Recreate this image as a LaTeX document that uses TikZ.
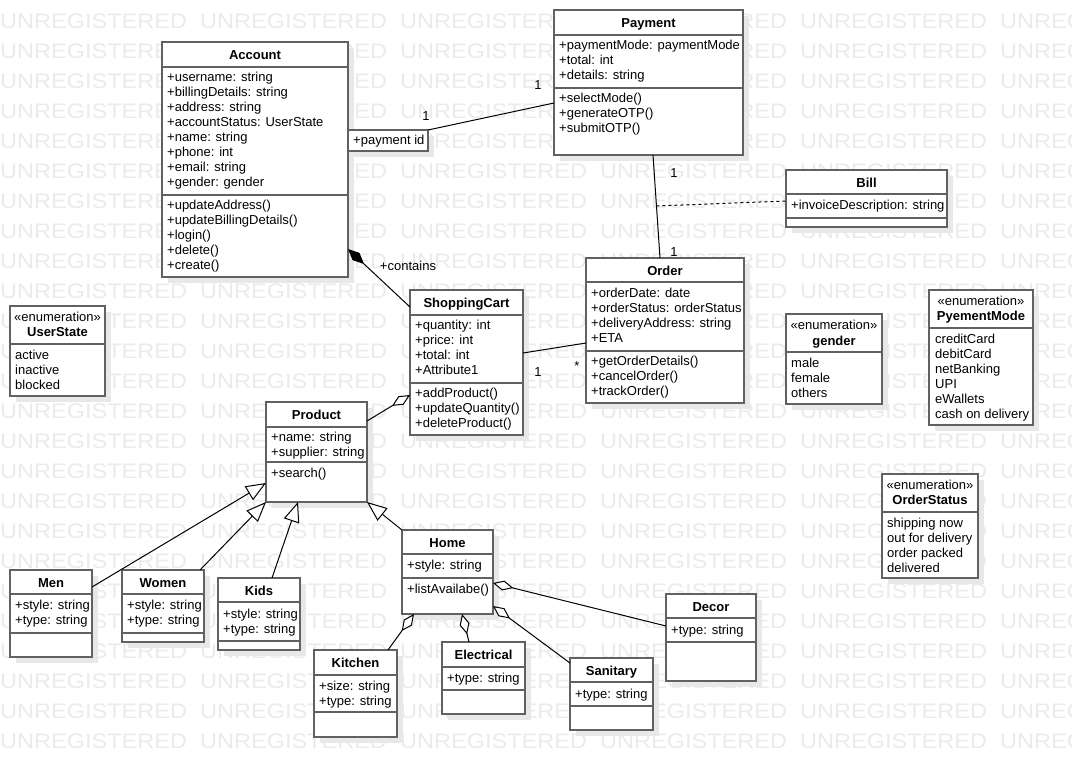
\documentclass[tikz,border=0pt]{standalone}
\usepackage{fontspec}
\setmainfont{Liberation Sans}
\usetikzlibrary{arrows.meta,shadows,calc}

\tikzset{
  box/.style={draw=black!62, line width=1.3pt, fill=white, rectangle, inner sep=0pt, outer sep=0pt, anchor=north west,
    drop shadow={shadow xshift=6pt, shadow yshift=-6pt, fill=black!9, opacity=1}},
  sepline/.style={draw=black!62, line width=1.3pt},
  ttl/.style={font=\bfseries\fontsize{13}{15}\selectfont, inner sep=0pt, anchor=base},
  txt/.style={font=\fontsize{13}{15}\selectfont, inner sep=0pt, anchor=base west},
  stereo/.style={font=\fontsize{13}{15}\selectfont, inner sep=0pt, anchor=base},
  conn/.style={draw=black, line width=1pt},
  mult/.style={font=\fontsize{13}{15}\selectfont, inner sep=0pt},
  wm/.style={font=\fontsize{21}{21}\selectfont, text=black!8, inner sep=0pt, anchor=base west},
  agg/.style={-{Diamond[open, fill=white, length=21pt, width=10pt]}},
  comp/.style={-{Diamond[fill=black, length=22pt, width=10pt]}},
  gen/.style={-{Triangle[open, fill=white, length=20pt, width=16pt]}}
}

\newcommand\umlrows[4]{\foreach \t [count=\i from 0] in {#4} {\node[txt] (#1-\i) at (#2,#3+15*\i) {\t};}}

\begin{document}
\begin{tikzpicture}[x=1pt,y=-1pt]
\useasboundingbox (0,0) rectangle (1072,777);
\fill[white] (0,0) rectangle (1072,777);

% watermark
\foreach \r in {0,...,24}{\foreach \c in {0,...,5}{\node[wm] (wm-\r-\c) at (\c*200,28.3+\r*30) {\scalebox{1.12}[1]{UNREGISTERED}};}}

% Account
\node[box, minimum width=186, minimum height=235] (acc) at (162,42) {};
\node[ttl] (acc-t) at (255,59) {Account};
\draw[sepline] (162,67) -- (348,67);
\draw[sepline] (162,195) -- (348,195);
\umlrows{acc-a}{167}{81}{+username: string,+billingDetails: string,+address: string,+accountStatus: UserState,+name: string,+phone: int,+email: string,+gender: gender}
\umlrows{acc-m}{167}{209}{+updateAddress(),+updateBillingDetails(),+login(),+delete(),+create()}

% payment id qualifier
\node[box, minimum width=80, minimum height=21] (pid) at (348,130) {};
\node[txt] (pid-t) at (353,144) {+payment id};

% Payment
\node[box, minimum width=189, minimum height=145] (pay) at (554,10) {};
\node[ttl] (pay-t) at (648.5,27) {Payment};
\draw[sepline] (554,35) -- (743,35);
\draw[sepline] (554,88) -- (743,88);
\umlrows{pay-a}{559}{49}{+paymentMode: paymentMode,+total: int,+details: string}
\umlrows{pay-m}{559}{102}{+selectMode(),+generateOTP(),+submitOTP()}

% Bill
\node[box, minimum width=161, minimum height=57] (bill) at (786,170) {};
\node[ttl] (bill-t) at (866.5,187) {Bill};
\draw[sepline] (786,194) -- (947,194);
\draw[sepline] (786,218) -- (947,218);
\node[txt] (bill-a) at (791,209) {+invoiceDescription: string};

% Order
\node[box, minimum width=158, minimum height=145] (ord) at (586,258) {};
\node[ttl] (ord-t) at (665,275) {Order};
\draw[sepline] (586,282) -- (744,282);
\draw[sepline] (586,351) -- (744,351);
\umlrows{ord-a}{591}{297}{+orderDate: date,+orderStatus: orderStatus,+deliveryAddress: string,+ETA}
\umlrows{ord-m}{591}{365}{+getOrderDetails(),+cancelOrder(),+trackOrder()}

% gender
\node[box, minimum width=96, minimum height=90] (gen) at (786,314) {};
\node[stereo] (gen-s) at (834,329) {«enumeration»};
\node[ttl] (gen-t) at (834,345) {gender};
\draw[sepline] (786,352) -- (882,352);
\umlrows{gen-v}{791}{367}{male,female,others}

% PyementMode
\node[box, minimum width=104, minimum height=135] (pm) at (929,290) {};
\node[stereo] (pm-s) at (981,305) {«enumeration»};
\node[ttl] (pm-t) at (981,320) {PyementMode};
\draw[sepline] (929,328) -- (1033,328);
\umlrows{pm-v}{935}{343}{creditCard,debitCard,netBanking,UPI,eWallets,cash on delivery}

% OrderStatus
\node[box, minimum width=96, minimum height=104] (os) at (882,474) {};
\node[stereo] (os-s) at (930,489) {«enumeration»};
\node[ttl] (os-t) at (930,504) {OrderStatus};
\draw[sepline] (882,512) -- (978,512);
\umlrows{os-v}{887}{527}{shipping now,out for delivery,order packed,delivered}

% UserState
\node[box, minimum width=95, minimum height=90] (us) at (10,306) {};
\node[stereo] (us-s) at (57.5,321) {«enumeration»};
\node[ttl] (us-t) at (57.5,336) {UserState};
\draw[sepline] (10,344) -- (105,344);
\umlrows{us-v}{15}{359}{active,inactive,blocked}

% ShoppingCart
\node[box, minimum width=113, minimum height=145] (sc) at (410,290) {};
\node[ttl] (sc-t) at (466.5,307) {ShoppingCart};
\draw[sepline] (410,315) -- (523,315);
\draw[sepline] (410,383) -- (523,383);
\umlrows{sc-a}{415}{329}{+quantity: int,+price: int,+total: int,+Attribute1}
\umlrows{sc-m}{415}{397}{+addProduct(),+updateQuantity(),+deleteProduct()}

% Product
\node[box, minimum width=101, minimum height=100] (prod) at (266,402) {};
\node[ttl] (prod-t) at (316.5,419) {Product};
\draw[sepline] (266,427) -- (367,427);
\draw[sepline] (266,462) -- (367,462);
\umlrows{prod-a}{271}{441}{+name: string,+supplier: string}
\node[txt] (prod-m) at (271,477) {+search()};

% Home
\node[box, minimum width=91, minimum height=84] (home) at (402,530) {};
\node[ttl] (home-t) at (447.5,547) {Home};
\draw[sepline] (402,554) -- (493,554);
\draw[sepline] (402,578) -- (493,578);
\node[txt] (home-a) at (407,569) {+style: string};
\node[txt] (home-m) at (407,593) {+listAvailabe()};

% Men
\node[box, minimum width=82, minimum height=87] (men) at (10,570) {};
\node[ttl] (men-t) at (51,587) {Men};
\draw[sepline] (10,594) -- (92,594);
\draw[sepline] (10,633) -- (92,633);
\umlrows{men-a}{15}{609.5}{+style: string,+type: string}

% Women
\node[box, minimum width=82, minimum height=72] (wom) at (122,570) {};
\node[ttl] (wom-t) at (163,587) {Women};
\draw[sepline] (122,594) -- (204,594);
\draw[sepline] (122,633) -- (204,633);
\umlrows{wom-a}{127}{609.5}{+style: string,+type: string}

% Kids
\node[box, minimum width=82, minimum height=72] (kids) at (218,578) {};
\node[ttl] (kids-t) at (259,595) {Kids};
\draw[sepline] (218,602) -- (300,602);
\draw[sepline] (218,641) -- (300,641);
\umlrows{kids-a}{223}{618}{+style: string,+type: string}

% Kitchen
\node[box, minimum width=83, minimum height=87] (kit) at (314,650) {};
\node[ttl] (kit-t) at (355.5,667) {Kitchen};
\draw[sepline] (314,675) -- (397,675);
\draw[sepline] (314,712) -- (397,712);
\umlrows{kit-a}{319}{690}{+size: string,+type: string}

% Electrical
\node[box, minimum width=83, minimum height=72] (elec) at (442,642) {};
\node[ttl] (elec-t) at (483.5,659) {Electrical};
\draw[sepline] (442,667) -- (525,667);
\draw[sepline] (442,690) -- (525,690);
\node[txt] (elec-a) at (447,682) {+type: string};

% Sanitary
\node[box, minimum width=83, minimum height=72] (san) at (570,658) {};
\node[ttl] (san-t) at (611.5,675) {Sanitary};
\draw[sepline] (570,682) -- (653,682);
\draw[sepline] (570,706) -- (653,706);
\node[txt] (san-a) at (575,698) {+type: string};

% Decor
\node[box, minimum width=90, minimum height=87] (dec) at (666,594) {};
\node[ttl] (dec-t) at (711,611) {Decor};
\draw[sepline] (666,618) -- (756,618);
\draw[sepline] (666,642) -- (756,642);
\node[txt] (dec-a) at (671,634) {+type: string};

% ---------- connectors ----------
\draw[conn] (pid.north east) -- (pay.west |- 0,103);
\node[mult] (m1) at (426,116) {1};
\node[mult] (m2) at (538,85) {1};

\draw[conn] (pay.south -| 653,0) -- (ord.north -| 660,0) coordinate[pos=0.495] (po);
\node[mult] (m3) at (674,173) {1};
\node[mult] (m4) at (674,252) {1};
\draw[conn, dash pattern=on 3pt off 3pt] (po) -- (bill.west |- 0,201);

\draw[conn, comp] (sc.west |- 0,307) -- (acc.east |- 0,249);
\node[mult] (contains) at (408,266) {+contains};

\draw[conn] (sc.east |- 0,353) -- (ord.west |- 0,343);
\node[mult] (m5) at (538,372) {1};
\node[mult] (m6) at (577,366) {*};

\draw[conn, agg] (prod.east |- 0,421) -- (sc.west |- 0,395);

\draw[conn, gen] (men.east |- 0,587) -- (prod.west |- 0,483);
\draw[conn, gen] (wom.north -| 200,0) -- (prod.south west);
\draw[conn, gen] (kids.north -| 272,0) -- (prod.south -| 298,0);
\draw[conn, gen] (home.north west) -- (prod.south east);

\draw[conn, agg] (kit.north -| 388,0) -- (home.south -| 414,0);
\draw[conn, agg] (elec.north -| 469,0) -- (home.south -| 462,0);
\draw[conn, agg] (san.west |- 0,663) -- (home.east |- 0,606);
\draw[conn, agg] (dec.west |- 0,626) -- (home.east |- 0,583);
\end{tikzpicture}
\end{document}
